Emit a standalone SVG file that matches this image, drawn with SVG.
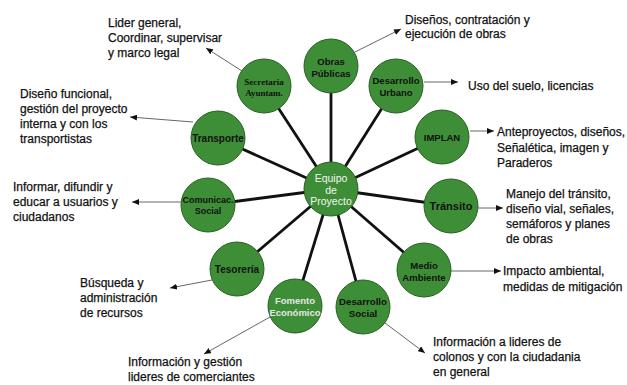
<svg xmlns="http://www.w3.org/2000/svg" width="627" height="385" viewBox="0 0 627 385">
<defs>
<marker id="ah" markerWidth="7" markerHeight="6" refX="7" refY="3" orient="auto" markerUnits="userSpaceOnUse">
<path d="M0,0 L7,3 L0,6 z" fill="#111"/>
</marker>
<style>
.spoke{stroke:#111;stroke-width:2.8;fill:none}
.arr{stroke:#666;stroke-width:1;fill:none;marker-end:url(#ah)}
.node{fill:#3e8e37;stroke:#2a5f25;stroke-width:1}
.nt{font-family:"Liberation Sans",Arial,sans-serif;font-weight:bold;fill:#111;text-anchor:middle}
.lbl{font-family:"Liberation Sans",Arial,sans-serif;font-size:12px;fill:#111;stroke:#111;stroke-width:0.25}
</style>
</defs>
<rect width="627" height="385" fill="#fff"/>
<g id="connectors">
<line class="spoke" x1="331" y1="189" x2="331" y2="66"/>
<line class="spoke" x1="331" y1="189" x2="264" y2="86"/>
<line class="spoke" x1="331" y1="189" x2="396" y2="86"/>
<line class="spoke" x1="331" y1="189" x2="218" y2="138"/>
<line class="spoke" x1="331" y1="189" x2="442" y2="137"/>
<line class="spoke" x1="331" y1="189" x2="208" y2="205"/>
<line class="spoke" x1="331" y1="189" x2="451" y2="206"/>
<line class="spoke" x1="331" y1="189" x2="237" y2="269"/>
<line class="spoke" x1="331" y1="189" x2="424" y2="270"/>
<line class="spoke" x1="331" y1="189" x2="295" y2="306"/>
<line class="spoke" x1="331" y1="189" x2="363" y2="307"/>
<line class="arr" x1="242" y1="71" x2="206" y2="48"/>
<line class="arr" x1="355" y1="52" x2="401" y2="29"/>
<line class="arr" x1="424" y1="82" x2="458" y2="82"/>
<line class="arr" x1="470" y1="131" x2="494" y2="131"/>
<line class="arr" x1="193" y1="122" x2="130" y2="117"/>
<line class="arr" x1="181" y1="202" x2="132" y2="202"/>
<line class="arr" x1="478" y1="208" x2="503" y2="208"/>
<line class="arr" x1="451" y1="271" x2="501" y2="271"/>
<line class="arr" x1="212" y1="280" x2="170" y2="288"/>
<line class="arr" x1="270" y1="317" x2="204" y2="354"/>
<line class="arr" x1="385" y1="323" x2="425" y2="353"/>
</g>
<g id="equipo"><circle class="node" cx="331" cy="189" r="27"/>
<text font-family="Liberation Sans,Arial,sans-serif" font-size="10.5" fill="#f4f4f4" text-anchor="middle"><tspan x="331" y="182">Equipo</tspan><tspan x="331" y="194">de</tspan><tspan x="331" y="205">Proyecto</tspan></text></g>
<g id="obras"><circle class="node" cx="331" cy="66" r="27"/>
<text class="nt" font-size="9.5"><tspan x="331" y="65">Obras</tspan><tspan x="331" y="77">Públicas</tspan></text></g>
<g id="secretaria"><circle class="node" cx="264" cy="86" r="27"/>
<text font-family="Liberation Serif,Times New Roman,serif" font-weight="bold" font-size="9" fill="#111" text-anchor="middle"><tspan x="264" y="85">Secretaria</tspan><tspan x="264" y="96">Ayuntam.</tspan></text></g>
<g id="des-urbano"><circle class="node" cx="396" cy="86" r="27"/>
<text class="nt" font-size="9.5"><tspan x="396" y="84">Desarrollo</tspan><tspan x="396" y="96">Urbano</tspan></text></g>
<g id="transporte"><circle class="node" cx="218" cy="138" r="27"/>
<text class="nt" font-size="10" x="218" y="141.5">Transporte</text></g>
<g id="implan"><circle class="node" cx="442" cy="137" r="27"/>
<text class="nt" font-size="9.5" x="442" y="140.5">IMPLAN</text></g>
<g id="comunicac"><circle class="node" cx="208" cy="205" r="27"/>
<text class="nt" font-size="9"><tspan x="208" y="203">Comunicac.</tspan><tspan x="208" y="214">Social</tspan></text></g>
<g id="transito"><circle class="node" cx="451" cy="206" r="27"/>
<text class="nt" font-size="11" x="451" y="210">Tránsito</text></g>
<g id="tesoreria"><circle class="node" cx="237" cy="269" r="27"/>
<text class="nt" font-size="10" x="237" y="272.5">Tesorería</text></g>
<g id="medio"><circle class="node" cx="424" cy="270" r="27"/>
<text class="nt" font-size="9.5"><tspan x="424" y="269">Medio</tspan><tspan x="424" y="281">Ambiente</tspan></text></g>
<g id="fomento"><circle class="node" cx="295" cy="306" r="27"/>
<text class="nt" font-size="9.5" style="fill:#e6e6e6"><tspan x="295" y="304">Fomento</tspan><tspan x="295" y="316">Económico</tspan></text></g>
<g id="des-social"><circle class="node" cx="363" cy="307" r="27"/>
<text class="nt" font-size="9.7"><tspan x="363" y="305">Desarrollo</tspan><tspan x="363" y="317">Social</tspan></text></g>
<g id="labels">
<text class="lbl"><tspan x="108" y="27">Lider general,</tspan><tspan x="108" y="42">Coordinar, supervisar</tspan><tspan x="108" y="57">y marco legal</tspan></text>
<text class="lbl"><tspan x="405" y="24">Diseños, contratación y</tspan><tspan x="405" y="38">ejecución de obras</tspan></text>
<text class="lbl" x="468" y="90">Uso del suelo, licencias</text>
<text class="lbl"><tspan x="20" y="98">Diseño funcional,</tspan><tspan x="20" y="113">gestión del proyecto</tspan><tspan x="20" y="128">interna y con los</tspan><tspan x="20" y="143">transportistas</tspan></text>
<text class="lbl"><tspan x="497" y="136">Anteproyectos, diseños,</tspan><tspan x="497" y="152">Señalética, imagen y</tspan><tspan x="497" y="167">Paraderos</tspan></text>
<text class="lbl"><tspan x="13" y="191">Informar, difundir y</tspan><tspan x="13" y="206">educar a usuarios y</tspan><tspan x="13" y="221">ciudadanos</tspan></text>
<text class="lbl"><tspan x="506" y="198">Manejo del tránsito,</tspan><tspan x="506" y="213">diseño vial, señales,</tspan><tspan x="506" y="228">semáforos y planes</tspan><tspan x="506" y="243">de obras</tspan></text>
<text class="lbl"><tspan x="503" y="275">Impacto ambiental,</tspan><tspan x="503" y="291">medidas de mitigación</tspan></text>
<text class="lbl"><tspan x="80" y="287">Búsqueda y</tspan><tspan x="80" y="302">administración</tspan><tspan x="80" y="317">de recursos</tspan></text>
<text class="lbl"><tspan x="433" y="346">Información a lideres de</tspan><tspan x="433" y="361">colonos y con la ciudadania</tspan><tspan x="433" y="376">en general</tspan></text>
<text class="lbl"><tspan x="128" y="366">Información y gestión</tspan><tspan x="128" y="381">lideres de comerciantes</tspan></text>
</g>
</svg>
